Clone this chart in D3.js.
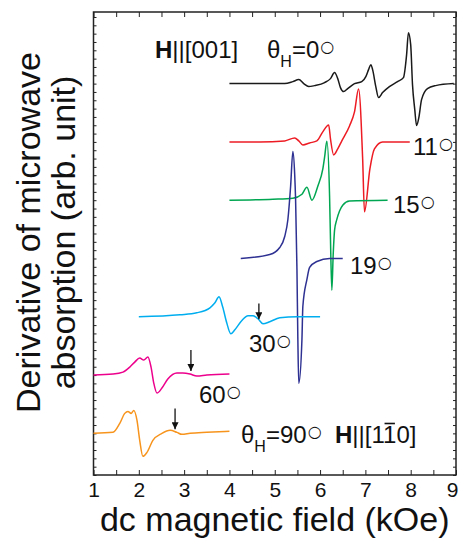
<!DOCTYPE html>
<html>
<head>
<meta charset="utf-8">
<script src="https://cdn.jsdelivr.net/npm/d3@7"></script>
<style>
  body { margin: 0; background: #fff; }
  svg text { font-family: "Liberation Sans", Arial, sans-serif; fill: #111; }
</style>
</head>
<body>
<div id="js-svg-container"></div>
<script>
// FMR derivative spectra, one curve per field angle
const angles = ['0', '11', '15', '19', '30', '60', '90'];
const offsets = [47, 40, 33, 26, 19, 12, 5];

const field0 = [4.00, 4.67, 5.22, 5.40, 5.53, 5.64, 5.75, 5.88, 6.10, 6.23, 6.32, 6.39, 6.45, 6.52, 6.61, 6.76, 6.92, 7.01, 7.07, 7.12, 7.16, 7.23, 7.29, 7.38, 7.53, 7.71, 7.84, 7.91, 7.95, 8.00, 8.04, 8.09, 8.13, 8.18, 8.24, 8.37, 8.55, 8.95];
const signal0 = [0, 0, 0, 0.24, 0.48, 0, -0.36, -0.24, 0.12, 0.6, 1.32, 0.6, -0.48, -0.96, -0.6, 0, 0.24, 0.84, 1.68, 2.28, 1.68, -0.36, -1.68, -1.08, -0.36, 0.24, 0.72, 3.48, 6.12, 4.68, -0.12, -3.12, -5.04, -4.08, -1.92, -0.6, -0.24, 0];

const field1 = [4.00, 4.67, 5.22, 5.44, 5.53, 5.62, 5.77, 5.93, 6.06, 6.19, 6.23, 6.30, 6.39, 6.48, 6.65, 6.76, 6.85, 6.94, 6.98, 7.10, 7.20, 7.38, 7.98];
const signal1 = [0, 0, 0.12, 0.48, 0.12, -0.36, -0.12, 0.12, 1.2, 2.04, 0.36, -1.56, -0.84, 0.12, 1.92, 3.6, 6.36, -2.04, -8.4, -3.24, -0.84, 0, 0];

const field2 = [4.00, 4.96, 5.40, 5.60, 5.71, 5.82, 5.95, 6.06, 6.10, 6.15, 6.21, 6.23, 6.26, 6.29, 6.32, 6.37, 6.43, 6.50, 6.65, 7.49];
const signal2 = [0, 0.12, 0.24, 0.72, 1.56, 0, 1.68, 3.72, 5.16, 7.08, 0.48, -4.7, -10.8, -6.5, -3.6, -2.3, -1.3, -0.6, -0.1, 0];

const field3 = [4.25, 4.89, 5.11, 5.22, 5.29, 5.35, 5.40, 5.44, 5.46, 5.49, 5.51, 5.53, 5.60, 5.62, 5.71, 5.77, 5.93, 6.21, 6.50];
const signal3 = [0, 0.48, 1.32, 2.64, 4.68, 8.64, 12.84, 10.08, 7.08, -1.32, -9.72, -15.0, -9.72, -5.76, -2.52, -1.08, -0.36, 0, 0];

const field4 = [2.00, 2.91, 3.28, 3.57, 3.68, 3.77, 3.85, 3.94, 4.03, 4.12, 4.27, 4.41, 4.52, 4.63, 4.74, 4.89, 5.11, 5.49, 6.00];
const signal4 = [0, 0.24, 0.48, 1.08, 1.68, 2.4, 1.2, -0.72, -2.04, -1.56, -0.48, 0.12, 0.12, -0.24, -0.84, -0.6, -0.12, 0, 0];

const field5 = [1.00, 1.43, 1.65, 1.80, 1.91, 2.02, 2.11, 2.20, 2.27, 2.33, 2.40, 2.51, 2.64, 2.84, 2.97, 3.13, 3.28, 3.50, 4.00];
const signal5 = [0, 0.12, 0.36, 0.96, 1.56, 2.04, 1.8, 2.16, 0.96, -0.96, -2.16, -1.56, -0.48, 0.24, 0.24, 0.12, -0.12, 0, 0.12];

const field6 = [1.00, 1.43, 1.58, 1.69, 1.76, 1.83, 1.89, 1.96, 2.02, 2.09, 2.18, 2.31, 2.51, 2.69, 2.84, 2.95, 3.13, 3.50, 4.00];
const signal6 = [0, 0.12, 1.2, 2.4, 2.64, 2.4, 2.76, 1.56, -0.84, -2.76, -2.28, -0.84, 0, 0.36, 0.12, -0.12, 0, 0.12, 0.24];

const fields = [field0, field1, field2, field3, field4, field5, field6];
const signals = [signal0, signal1, signal2, signal3, signal4, signal5, signal6];

// arrows marking the weak mode (30, 60, 90 deg)
const arrowField = [4.65, 3.15, 2.80];
const arrowTop = [20.6, 15.0, 8.0];
const arrowTip = [18.7, 12.5, 5.5];

const xTickLabels = [1, 2, 3, 4, 5, 6, 7, 8, 9];

const colors = ['#1a1a1a', '#ed1c24', '#00a651', '#2e3192', '#00aeef', '#ec008c', '#f7941d'];

let width = 459, height = 539;
let margin = { top: 12, bottom: 64, left: 93.5, right: 3 };

let x = d3.scaleLinear().domain([1, 9]).range([margin.left, width - margin.right]);
let y = d3.scaleLinear().domain([0, 55.6]).range([height - margin.bottom, margin.top]);

let svg = d3.select('#js-svg-container')
    .append('svg')
    .attr('width', width)
    .attr('height', height);

let halfTicks = d3.range(1, 9.01, 0.5);
let yTicks = d3.range(0, 56, 1);

function styleAxis(g) {
    g.select('.domain').remove();
    g.selectAll('.tick line').attr('stroke', '#222').attr('stroke-width', 1);
    g.attr('font-family', '"Liberation Sans", Arial, sans-serif').attr('font-size', 21);
}

let xAxis = svg.append('g')
    .attr('transform', 'translate(0,' + y(0) + ')')
    .call(d3.axisBottom(x).tickValues(halfTicks).tickSize(-5).tickPadding(7)
        .tickFormat(d => xTickLabels.includes(d) ? d : ''))
    .call(styleAxis);

// last label sits on the window edge; keep it inside
xAxis.selectAll('.tick text').filter(d => d === 9)
    .attr('text-anchor', 'end')
    .attr('x', width - 1 - x(9));

svg.append('g')
    .attr('transform', 'translate(0,' + margin.top + ')')
    .call(d3.axisTop(x).tickValues(halfTicks).tickSize(-5).tickFormat(''))
    .call(styleAxis);

svg.append('g')
    .attr('transform', 'translate(' + margin.left + ',0)')
    .call(d3.axisLeft(y).tickValues(yTicks).tickSize(-3).tickFormat(''))
    .call(styleAxis);

svg.append('g')
    .attr('transform', 'translate(' + (width - margin.right) + ',0)')
    .call(d3.axisRight(y).tickValues(yTicks).tickSize(-3).tickFormat(''))
    .call(styleAxis);

svg.append('rect')
    .attr('x', x(1)).attr('y', y(55.6))
    .attr('width', x(9) - x(1)).attr('height', y(0) - y(55.6))
    .attr('fill', 'none').attr('stroke', '#222').attr('stroke-width', 1.5);

let line = d3.line()
    .x(d => x(d[0]))
    .y(d => y(d[1]))
    .curve(d3.curveMonotoneX);

fields.forEach((f, i) => {
    let pts = f.map((v, j) => [v, offsets[i] + signals[i][j]]);
    svg.append('path')
        .datum(pts)
        .attr('d', line)
        .attr('fill', 'none')
        .attr('stroke', colors[i])
        .attr('stroke-width', 1.5)
        .attr('stroke-linejoin', 'round');
});

svg.append('defs').append('marker')
    .attr('id', 'head')
    .attr('viewBox', '0 0 10 10')
    .attr('refX', 10).attr('refY', 5)
    .attr('markerUnits', 'userSpaceOnUse')
    .attr('markerWidth', 8).attr('markerHeight', 7)
    .attr('orient', 'auto')
    .append('path').attr('d', 'M0,0L10,5L0,10z').attr('fill', '#111');

arrowField.forEach((f, i) => {
    svg.append('line')
        .attr('x1', x(f)).attr('x2', x(f))
        .attr('y1', y(arrowTop[i])).attr('y2', y(arrowTip[i]))
        .attr('stroke', '#111').attr('stroke-width', 1.3)
        .attr('marker-end', 'url(#head)');
});

// annotation text
function deg(t) {
    t.append('tspan')
        .attr('font-family', '"DejaVu Sans"')
        .attr('font-size', 16)
        .attr('dx', 1)
        .attr('dy', -6)
        .text('○');
}

let labelPos = [null, [413, 155], [393, 213], [350, 274], [249, 352], [199, 403], null];
angles.forEach((a, i) => {
    if (!labelPos[i]) return;
    let t = svg.append('text')
        .attr('x', labelPos[i][0]).attr('y', labelPos[i][1])
        .attr('font-size', 24)
        .text(a);
    deg(t);
});

function thetaLabel(px, py, a) {
    let t = svg.append('text').attr('x', px).attr('y', py).attr('font-size', 24);
    t.append('tspan').text('θ');
    t.append('tspan').attr('font-size', 16).attr('dy', 9).text('H');
    t.append('tspan').attr('dy', -9).text('=' + a);
    deg(t);
}
thetaLabel(267, 58, angles[0]);
thetaLabel(241, 443, angles[6]);

let h1 = svg.append('text').attr('x', 155).attr('y', 58).attr('font-size', 24);
h1.append('tspan').attr('font-weight', 'bold').text('H');
h1.append('tspan').text('||[001]');

let h2 = svg.append('text').attr('x', 335).attr('y', 443).attr('font-size', 24);
h2.append('tspan').attr('font-weight', 'bold').text('H');
h2.append('tspan').text('||[110]');
let bar = h2.node().getExtentOfChar(5);
svg.append('line')
    .attr('x1', bar.x + 1.5).attr('x2', bar.x + bar.width - 1.5)
    .attr('y1', 443 - 19.5).attr('y2', 443 - 19.5)
    .attr('stroke', '#111').attr('stroke-width', 1.6);

svg.append('text')
    .attr('x', (x(1) + x(9)) / 2).attr('y', 531)
    .attr('text-anchor', 'middle')
    .attr('font-size', 34)
    .text('dc magnetic field (kOe)');

svg.append('text')
    .attr('transform', 'translate(40,232.5) rotate(-90)')
    .attr('text-anchor', 'middle')
    .attr('font-size', 34)
    .text('Derivative of microwave');

svg.append('text')
    .attr('transform', 'translate(75,232.5) rotate(-90)')
    .attr('text-anchor', 'middle')
    .attr('font-size', 34)
    .text('absorption (arb. unit)');
</script>
</body>
</html>
